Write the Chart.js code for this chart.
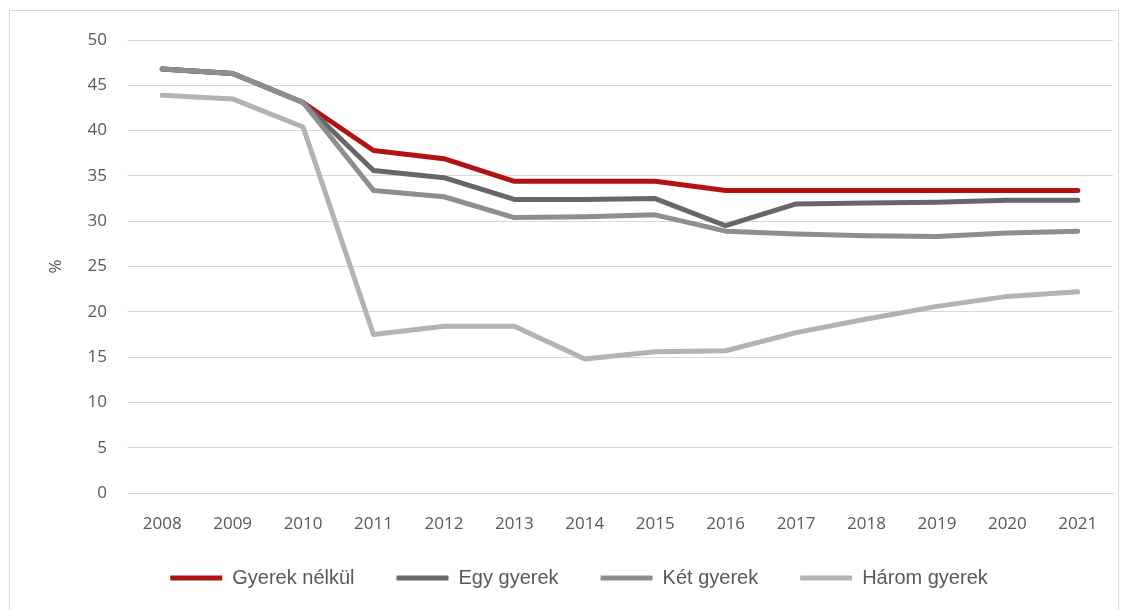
<!DOCTYPE html>
<html>
<head>
<meta charset="utf-8">
<script src="https://cdn.jsdelivr.net/npm/chart.js@4"></script>
<style>
  body { margin: 0; background: #fff; overflow: hidden; }
  #frame { position: absolute; left: 9px; top: 10px; width: 1110px; height: 610px; border: 1px solid #d9d9d9; box-sizing: border-box; }
  #wrap { position: absolute; left: 0; top: 0; width: 1129px; height: 610px; }
</style>
</head>
<body>
<div id="frame"></div>
<div id="wrap"><canvas id="myChart" width="1129" height="610"></canvas></div>
<script>
var years = ["2008", "2009", "2010", "2011", "2012", "2013", "2014", "2015", "2016", "2017", "2018", "2019", "2020", "2021"];
var nelkul = [46.8, 46.3, 43.1, 37.8, 36.9, 34.4, 34.4, 34.4, 33.4, 33.4, 33.4, 33.4, 33.4, 33.4];
var egy    = [46.8, 46.3, 43.1, 35.6, 34.8, 32.4, 32.4, 32.5, 29.5, 31.9, 32.0, 32.1, 32.3, 32.3];
var ket    = [46.8, 46.3, 43.1, 33.4, 32.7, 30.4, 30.5, 30.7, 28.9, 28.6, 28.4, 28.3, 28.7, 28.9];
var harom  = [43.9, 43.5, 40.4, 17.5, 18.4, 18.4, 14.8, 15.6, 15.7, 17.7, 19.2, 20.6, 21.7, 22.2];

var tickFont = { family: "'Open Sans', sans-serif", size: 17 };

function line(label, data, color, order) {
  return {
    label: label,
    data: data,
    borderColor: color,
    backgroundColor: color,
    borderWidth: 5,
    pointRadius: 0,
    tension: 0,
    borderCapStyle: 'round',
    borderJoinStyle: 'round',
    order: order
  };
}

// legend padding is also used vertically, so pull the legend back up and nudge it right
var legendNudge = {
  id: 'legendNudge',
  afterLayout: function(c) {
    var lg = c.legend;
    lg.top -= lg.options.labels.padding - 10;
    lg.left += 45;
  }
};

var ctx = document.getElementById('myChart').getContext('2d');
var chart = new Chart(ctx, {
  type: 'line',
  data: {
    labels: years,
    datasets: [
      line("Gyerek nélkül", nelkul, '#b01312', 4),
      line("Egy gyerek", egy, '#67666b', 3),
      line("Két gyerek", ket, '#8e8d92', 2),
      line("Három gyerek", harom, '#b3b2b6', 1)
    ]
  },
  plugins: [legendNudge],
  options: {
    responsive: false,
    animation: false,
    layout: { padding: { left: 0, right: 16, top: 40, bottom: 12 } },
    plugins: {
      tooltip: { enabled: false },
      legend: {
        position: 'bottom',
        maxHeight: 40,
        labels: {
          boxWidth: 52,
          boxHeight: 5,
          padding: 42,
          color: '#595959',
          font: { family: "'Liberation Sans', sans-serif", size: 20 },
          sort: function(a, b) { return a.datasetIndex - b.datasetIndex; },
          generateLabels: function(c) {
            var items = Chart.defaults.plugins.legend.labels.generateLabels(c);
            items.forEach(function(it) {
              it.fillStyle = it.strokeStyle;
              it.lineWidth = 0;
            });
            return items;
          }
        }
      }
    },
    scales: {
      x: {
        offset: true,
        afterFit: function(scale) { scale.height = 65; },
        grid: { display: false, drawTicks: false },
        border: { color: '#d9d9d9' },
        ticks: { color: '#595959', font: tickFont, padding: 21, maxRotation: 0 }
      },
      y: {
        min: 0,
        max: 50,
        afterFit: function(scale) { scale.width = 127; },
        grid: { color: '#d9d9d9', drawTicks: false },
        border: { display: false },
        ticks: { stepSize: 5, color: '#595959', font: tickFont, padding: 20 },
        title: { display: true, text: '%', color: '#595959', font: tickFont, padding: { top: 46 } }
      }
    }
  }
});
</script>
</body>
</html>
